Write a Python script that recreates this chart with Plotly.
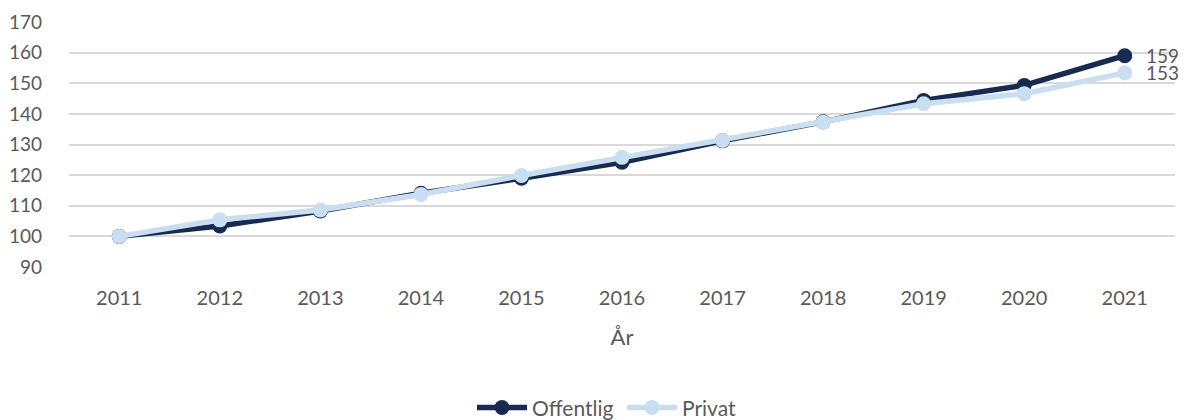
import plotly.graph_objects as go

years = [2011, 2012, 2013, 2014, 2015, 2016, 2017, 2018, 2019, 2020, 2021]
offentlig = [100, 103.4, 108.3, 114.1, 119.0, 124.2, 131.2, 137.4, 144.4, 149.3, 159]
privat = [100, 105.4, 108.6, 113.7, 119.9, 125.8, 131.3, 137.3, 143.3, 146.6, 153.4]
y_ticks = [90, 100, 110, 120, 130, 140, 150, 160, 170]

FONT = "Lato, Calibri, 'Open Sans', sans-serif"
TXT = "#595959"
C_OFF = "#172A4F"
C_PRI = "#C9DFF1"

fig = go.Figure()
fig.add_trace(go.Scatter(
    x=years, y=offentlig, name="Offentlig", mode="lines+markers",
    line=dict(color=C_OFF, width=5.5), marker=dict(color=C_OFF, size=15)))
fig.add_trace(go.Scatter(
    x=years, y=privat, name="Privat", mode="lines+markers",
    line=dict(color=C_PRI, width=5.5), marker=dict(color=C_PRI, size=15)))

for vals in (offentlig, privat):
    fig.add_annotation(x=years[-1], y=vals[-1], text=f"{round(vals[-1])}",
                       showarrow=False, xanchor="left", yanchor="middle",
                       xshift=19, font=dict(family=FONT, size=19, color=TXT))

fig.update_layout(
    width=1184, height=420,
    margin=dict(l=69, r=9, t=22, b=153, autoexpand=False),
    paper_bgcolor="white", plot_bgcolor="white",
    font=dict(family=FONT, size=20, color=TXT),
    showlegend=True,
    legend=dict(orientation="h", x=0.5, xanchor="center", y=-0.575, yanchor="middle",
                font=dict(family=FONT, size=21, color=TXT), itemwidth=50,
                entrywidth=85, tracegroupgap=0),
    xaxis=dict(range=[2010.5, 2021.5], tickmode="array", tickvals=years,
               ticktext=[str(y) for y in years], showgrid=False, zeroline=False,
               showline=False, ticks="", ticklabelstandoff=17, automargin=False,
               title=dict(text="År", font=dict(family=FONT, size=22, color=TXT), standoff=21),
               tickfont=dict(family=FONT, size=20, color=TXT)),
    yaxis=dict(range=[90, 170], tickvals=y_ticks, showgrid=True, gridcolor="#D9D9D9",
               gridwidth=1.5, zeroline=False, showline=False, ticks="",
               ticklabelstandoff=26, automargin=False,
               tickfont=dict(family=FONT, size=19, color=TXT)),
)
fig.write_html("out.html", config={"displayModeBar": False},
               post_script="document.body.style.margin='0';document.body.style.overflow='hidden';")
